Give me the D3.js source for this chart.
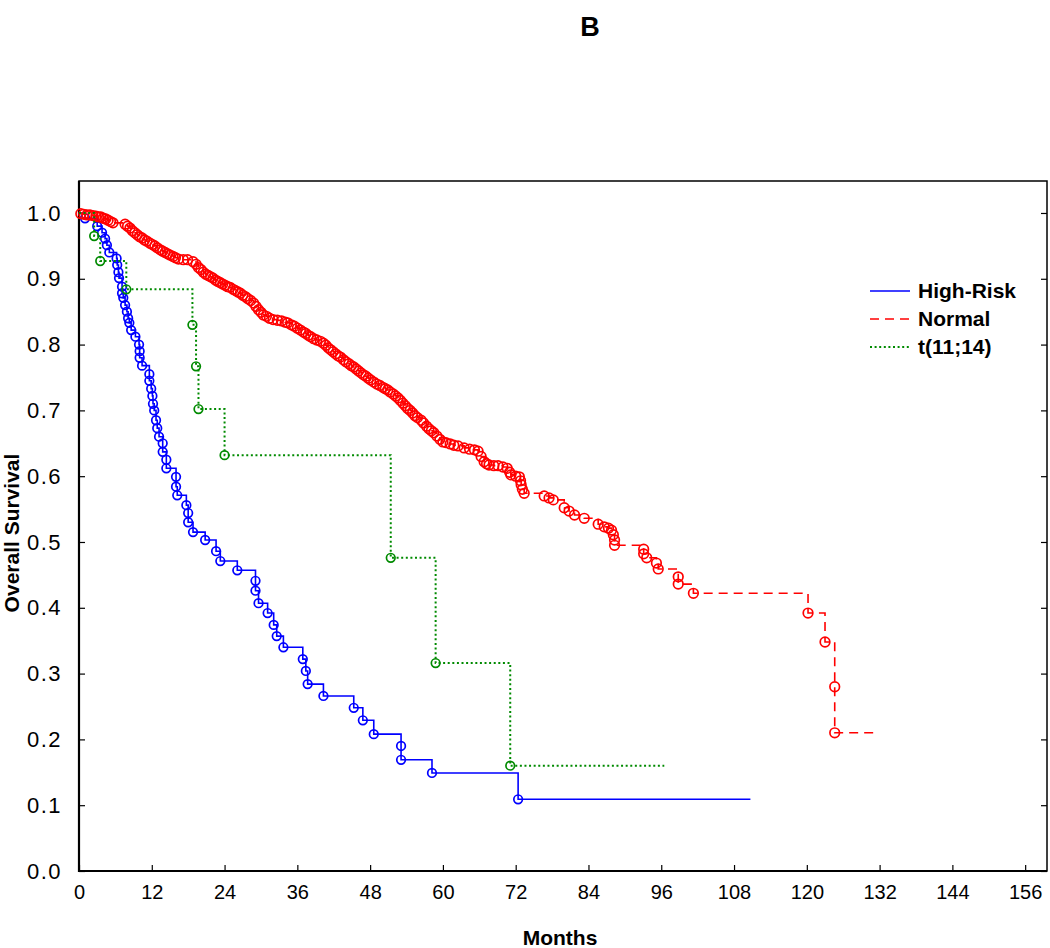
<!DOCTYPE html>
<html><head><meta charset="utf-8">
<script src="https://cdn.jsdelivr.net/npm/d3@7"></script>
<style>body{margin:0;background:#fff} svg{display:block}</style>
</head><body>
<svg id="c" width="1050" height="948"></svg>
<script>
// ---- data ----
const xTicks = [0,12,24,36,48,60,72,84,96,108,120,132,144,156];
const yTicks = [0,0.1,0.2,0.3,0.4,0.5,0.6,0.7,0.8,0.9,1.0];
const seriesNames = ["High-Risk","Normal","t(11;14)"];

// [months, survival] at each step (circle marks), starting from (0,1)
const highRisk = [
[0,1],[1.0,0.992],[3.0,0.980],[3.8,0.970],[4.3,0.961],[4.6,0.951],[5.0,0.940],[6.2,0.931],[6.3,0.921],[6.5,0.910],[6.6,0.901],
[7.1,0.888],[7.1,0.878],[7.3,0.871],[7.6,0.860],[7.9,0.850],[8.1,0.840],[8.3,0.833],[8.6,0.822],[9.3,0.812],[9.9,0.800],
[10.0,0.790],[10.0,0.780],[10.4,0.768],[11.6,0.755],[11.6,0.745],[11.9,0.733],[12.1,0.722],[12.2,0.710],[12.4,0.700],[12.7,0.685],
[12.9,0.673],[13.2,0.660],[13.8,0.650],[13.8,0.637],[14.4,0.625],[14.4,0.612],[16.0,0.599],[16.0,0.584],[16.2,0.571],[17.7,0.556],
[18.0,0.544],[18.0,0.530],[18.8,0.515],[20.8,0.503],[22.6,0.486],[23.3,0.471],[26.1,0.457],[29.1,0.441],[29.1,0.426],[29.6,0.407],
[31.1,0.392],[32.1,0.374],[32.6,0.357],[33.7,0.340],[36.9,0.322],[37.4,0.304],[37.7,0.284],[40.3,0.266],[45.3,0.248],[46.8,0.229],
[48.6,0.208],[53.1,0.190],[53.1,0.169],[58.2,0.149],[72.4,0.109]
];
const highRiskEnd = 110.7;

const normal = [
[0,1],
[0.3,0.999],[0.8,0.998],[1.3,0.997],[1.8,0.997],[2.3,0.996],[2.8,0.995],[3.2,0.994],[3.6,0.994],[4.0,0.992],[4.4,0.991],[4.8,0.989],[5.2,0.987],[5.6,0.985],
[7.6,0.983],[8.0,0.980],[8.4,0.977],[8.8,0.973],[9.2,0.970],[9.6,0.967],[10.0,0.964],[10.4,0.962],[10.8,0.959],[11.2,0.957],[11.7,0.954],
[12.1,0.952],[12.5,0.950],[12.9,0.947],[13.4,0.944],[13.8,0.942],[14.2,0.940],[14.6,0.938],[15.0,0.936],[15.5,0.934],[15.9,0.932],[16.4,0.930],
[17.2,0.929],[17.9,0.929],[18.8,0.926],
[19.3,0.922],[19.7,0.917],[20.1,0.914],[20.5,0.910],[20.9,0.907],[21.3,0.905],[21.7,0.903],[22.1,0.901],[22.5,0.898],[22.9,0.896],[23.3,0.894],[23.7,0.892],[24.1,0.890],[24.5,0.888],
[24.9,0.887],[25.4,0.884],[25.8,0.882],[26.2,0.880],[26.6,0.878],[27.0,0.875],[27.4,0.873],[27.8,0.870],[28.3,0.867],[28.8,0.863],
[29.2,0.858],[29.6,0.853],[30.0,0.849],[30.4,0.845],
[30.9,0.843],[31.4,0.840],[32.0,0.838],[32.7,0.837],[33.4,0.836],[34.0,0.834],[34.4,0.833],[35.0,0.830],[35.5,0.828],[36.0,0.825],
[36.5,0.822],[37.0,0.819],[37.4,0.817],[37.8,0.814],[38.2,0.812],[38.7,0.809],[39.2,0.807],[39.8,0.805],[40.3,0.802],[40.7,0.799],[41.1,0.795],[41.5,0.792],[41.9,0.789],[42.3,0.786],[42.7,0.783],[43.1,0.781],
[43.6,0.777],[44.0,0.774],[44.5,0.771],[44.9,0.768],[45.3,0.766],[45.7,0.763],[46.1,0.760],[46.5,0.757],[46.9,0.754],[47.3,0.752],[47.7,0.749],[48.1,0.746],
[48.6,0.743],[49.1,0.740],[49.6,0.738],[50.1,0.735],[50.5,0.733],[50.9,0.731],[51.3,0.728],[51.8,0.725],[52.2,0.722],[52.6,0.719],
[53.0,0.715],[53.4,0.711],[53.8,0.707],[54.2,0.703],[54.6,0.700],[55.0,0.696],[55.4,0.692],[55.8,0.689],[56.4,0.685],
[56.8,0.681],[57.3,0.676],[57.7,0.672],[58.1,0.669],[58.5,0.666],[59.0,0.661],[59.5,0.656],[60.0,0.652],
[60.5,0.651],[61.2,0.649],[61.8,0.647],[62.5,0.646],[63.5,0.643],[64.4,0.641],[65.2,0.640],[65.8,0.638],
[66.3,0.630],[66.8,0.622],[67.2,0.619],[67.6,0.617],[68.4,0.616],[69.1,0.616],[69.9,0.614],[70.6,0.612],[71.0,0.606],[71.2,0.602],[72.0,0.600],[72.6,0.599],[72.8,0.593],[72.9,0.587],[73.1,0.580],[73.4,0.574],
[76.7,0.570],[77.5,0.567],[78.2,0.564],[80.0,0.552],[80.8,0.547],[81.7,0.541],[83.3,0.536],[85.6,0.527],[86.6,0.523],[87.3,0.521],[87.8,0.518],[88.1,0.511],[88.3,0.503],[88.3,0.495],
[93.1,0.489],[93.1,0.482],[93.6,0.476],[95.2,0.468],[95.5,0.459],[98.8,0.447],[98.8,0.436],[101.3,0.422],
[120.2,0.392],[123.0,0.348],[124.6,0.280],[124.6,0.210]
];
const normalEnd = 131.9;

const t1114 = [
[0,1],[2.5,0.965],[3.5,0.927],[7.8,0.884],[18.7,0.830],[19.3,0.767],[19.7,0.702],[24.0,0.632],[51.4,0.476],[58.8,0.316],[71.1,0.160]
];
const t1114End = 96.5;

// ---- chart ----
const svg = d3.select("#c");
const L = 79, R = 1047, T = 181, B = 871;
const x = d3.scaleLinear().domain([0, 159.6]).range([L, R]);
const y = d3.scaleLinear().domain([0, 1.0486]).range([B, T]);
const FONT = "'Liberation Sans', Arial, sans-serif";
const NARROW = "'Liberation Sans Narrow', 'Arial Narrow', 'Liberation Sans', sans-serif";

// title
svg.append("text").attr("x", 590).attr("y", 36).attr("text-anchor", "middle")
  .attr("font-family", FONT).attr("font-weight", "bold").attr("font-size", 27).text("B");

// frame
svg.append("rect").attr("x", L).attr("y", T).attr("width", R - L).attr("height", B - T)
  .attr("fill", "none").attr("stroke", "#000").attr("stroke-width", 1.5);
svg.append("line").attr("x1", L).attr("x2", L).attr("y1", T).attr("y2", B + 1).attr("stroke", "#000").attr("stroke-width", 2.2);
svg.append("line").attr("x1", L - 1).attr("x2", R).attr("y1", B).attr("y2", B).attr("stroke", "#000").attr("stroke-width", 2.2);

// axes
const xAxis = d3.axisBottom(x).tickValues(xTicks).tickSize(-6).tickPadding(14).tickFormat(d3.format("d"));
const gx = svg.append("g").attr("transform", `translate(0,${B})`).call(xAxis);
gx.select(".domain").remove();
gx.selectAll("text").attr("font-family", FONT).attr("font-size", 20).attr("fill", "#000");
gx.selectAll("line").attr("stroke", "#000").attr("stroke-width", 1.2);

const yAxis = d3.axisLeft(y).tickValues(yTicks).tickSize(-6).tickPadding(17).tickFormat(d3.format(".1f"));
const gy = svg.append("g").attr("transform", `translate(${L},0)`).call(yAxis);
gy.select(".domain").remove();
gy.selectAll("text").attr("font-family", FONT).attr("font-size", 22).attr("letter-spacing", 1.5).attr("fill", "#000");
gy.selectAll("line").attr("stroke", "#000").attr("stroke-width", 1.2);

const yAxisR = d3.axisRight(y).tickValues(yTicks).tickSize(-6).tickFormat("");
const gyr = svg.append("g").attr("transform", `translate(${R},0)`).call(yAxisR);
gyr.select(".domain").remove();
gyr.selectAll("line").attr("stroke", "#000").attr("stroke-width", 1.2);

// axis titles
svg.append("text").attr("x", 560).attr("y", 945).attr("text-anchor", "middle")
  .attr("font-family", NARROW).attr("font-weight", "bold").attr("font-size", 21).text("Months");
svg.append("text").attr("transform", "translate(19,533) rotate(-90)").attr("text-anchor", "middle")
  .attr("font-family", NARROW).attr("font-weight", "bold").attr("font-size", 21).text("Overall Survival");

// series
const series = [
  {name: seriesNames[0], pts: highRisk, end: highRiskEnd, color: "#0000ff", dash: null, w: 1.6, r: 4.3},
  {name: seriesNames[1], pts: normal, end: normalEnd, color: "#ff0000", dash: "9,6", w: 1.6, r: 4.8},
  {name: seriesNames[2], pts: t1114, end: t1114End, color: "#008a00", dash: "2,2.6", w: 2, r: 4.3}
];
const line = d3.line().x(d => x(d[0])).y(d => y(d[1])).curve(d3.curveStepAfter);
series.forEach(s => {
  const last = s.pts[s.pts.length - 1];
  const full = s.pts.concat([[s.end, last[1]]]);
  svg.append("path").attr("d", line(full)).attr("fill", "none").attr("stroke", s.color)
    .attr("stroke-width", s.w).attr("stroke-dasharray", s.dash);
  svg.append("g").selectAll("circle").data(s.pts.slice(1)).join("circle")
    .attr("cx", d => x(d[0])).attr("cy", d => y(d[1])).attr("r", s.r)
    .attr("fill", "none").attr("stroke", s.color).attr("stroke-width", 1.7);
});

// legend
const lg = svg.append("g");
const legY = [291, 319, 347];
series.forEach((s, i) => {
  lg.append("line").attr("x1", 870).attr("x2", 910).attr("y1", legY[i]).attr("y2", legY[i])
    .attr("stroke", s.color).attr("stroke-width", s.w).attr("stroke-dasharray", s.dash);
  lg.append("text").attr("x", 918).attr("y", legY[i] + 7).attr("font-family", FONT)
    .attr("font-weight", "bold").attr("font-size", 21).text(s.name);
});
</script>
</body></html>
